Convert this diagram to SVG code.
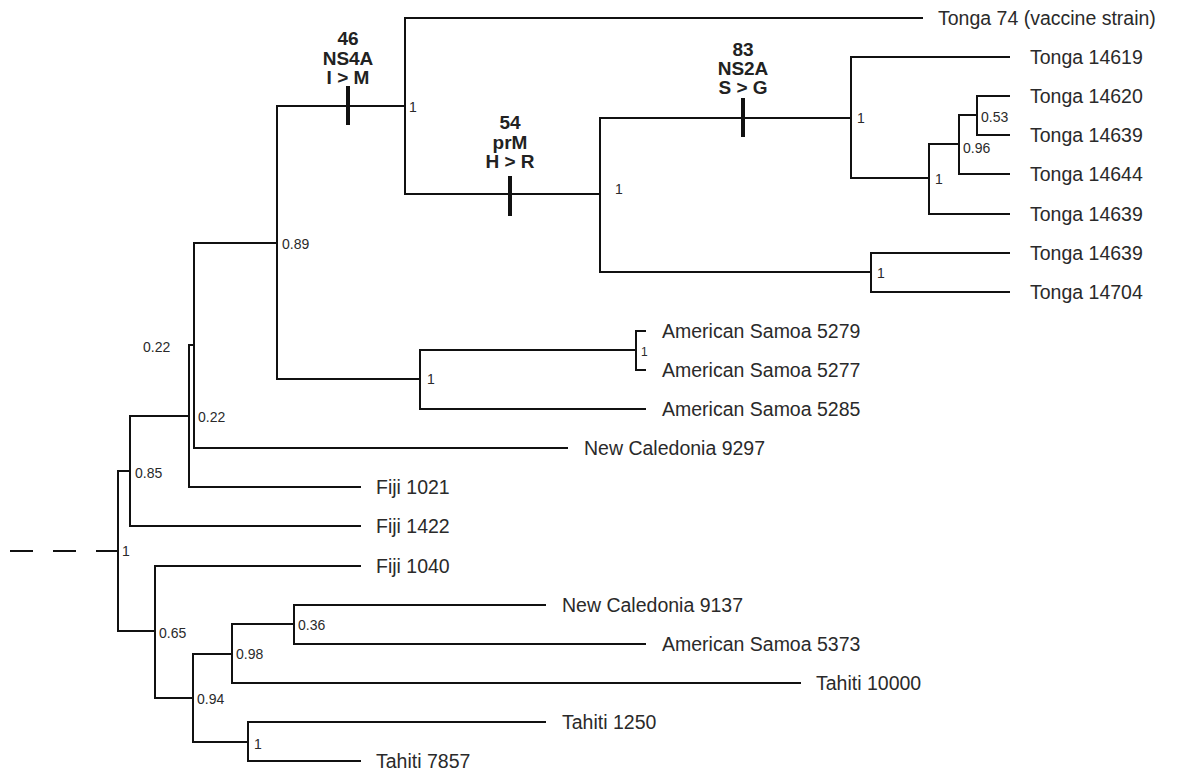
<svg xmlns="http://www.w3.org/2000/svg" width="1180" height="772" viewBox="0 0 1180 772">
<style>
.br{fill:none;stroke:#111;stroke-width:2;stroke-linecap:square}
.dash{fill:none;stroke:#111;stroke-width:2;stroke-dasharray:23 20}
.tick{stroke:#111;stroke-width:4}
.tip{font-family:"Liberation Sans",Arial,sans-serif;font-size:19.5px;fill:#2a2a2a}
.sup{font-family:"Liberation Sans",Arial,sans-serif;font-size:14px;fill:#2a2a2a}
.sup-s{font-family:"Liberation Sans",Arial,sans-serif;font-size:12px;fill:#2a2a2a}
.mut{font-family:"Liberation Sans",Arial,sans-serif;font-size:19px;font-weight:bold;fill:#222;text-anchor:middle}
</style>
<rect width="1180" height="772" fill="#fff"/>
<g id="connectors">
<path class="dash" d="M10 551H118"/>
<path class="br" d="M118 471V631"/>
<path class="br" d="M118 471H130M130 416V526M130 526H360"/>
<path class="br" d="M130 416H189M189 345V487M189 487H360"/>
<path class="br" d="M189 345H194M194 243V448M194 448H567"/>
<path class="br" d="M194 243H277M277 106V379"/>
<path class="br" d="M277 106H405M405 18V194M405 18H922"/>
<path class="br" d="M405 194H600M600 118V272"/>
<path class="br" d="M600 118H851M851 57V178M851 57H1009"/>
<path class="br" d="M851 178H929M929 144V214M929 214H1009"/>
<path class="br" d="M929 144H959M959 115V174M959 174H1009"/>
<path class="br" d="M959 115H977M977 96V135M977 96H1009M977 135H1009"/>
<path class="br" d="M600 272H871M871 253V292M871 253H1009M871 292H1009"/>
<path class="br" d="M277 379H420M420 350V409M420 409H645"/>
<path class="br" d="M420 350H636M636 331V370M636 331H645M636 370H645"/>
<path class="br" d="M118 631H155M155 566V698M155 566H360"/>
<path class="br" d="M155 698H193M193 654V742"/>
<path class="br" d="M193 654H232M232 624V683M232 683H800"/>
<path class="br" d="M232 624H294M294 605V644M294 605H545M294 644H645"/>
<path class="br" d="M193 742H248M248 722V761M248 722H545M248 761H360"/>
</g>
<g id="mut-46">
<line class="tick" x1="348" y1="86" x2="348" y2="125"/>
<text class="mut" x="348" y="45">46</text>
<text class="mut" x="348" y="65">NS4A</text>
<text class="mut" x="348" y="84">I &gt; M</text>
</g>
<g id="mut-54">
<line class="tick" x1="510" y1="176" x2="510" y2="216"/>
<text class="mut" x="510" y="129">54</text>
<text class="mut" x="510" y="149">prM</text>
<text class="mut" x="510" y="168">H &gt; R</text>
</g>
<g id="mut-83">
<line class="tick" x1="743" y1="98" x2="743" y2="137"/>
<text class="mut" x="743" y="56">83</text>
<text class="mut" x="743" y="75">NS2A</text>
<text class="mut" x="743" y="94">S &gt; G</text>
</g>
<g id="node-root"><text class="sup" x="122" y="556">1</text></g>
<g id="node-a"><text class="sup" x="135" y="478">0.85</text></g>
<g id="node-b"><text class="sup" x="143" y="352">0.22</text></g>
<g id="node-c"><text class="sup" x="198" y="422">0.22</text></g>
<g id="node-d"><text class="sup" x="282" y="249">0.89</text></g>
<g id="node-e"><text class="sup" x="409" y="112">1</text></g>
<g id="node-f"><text class="sup" x="615" y="194">1</text></g>
<g id="node-g"><text class="sup" x="857" y="123">1</text></g>
<g id="node-h"><text class="sup" x="935" y="184">1</text></g>
<g id="node-i"><text class="sup" x="963" y="153">0.96</text></g>
<g id="node-j"><text class="sup" x="981" y="122">0.53</text></g>
<g id="node-k"><text class="sup" x="877" y="278">1</text></g>
<g id="node-l"><text class="sup" x="427" y="384">1</text></g>
<g id="node-m"><text class="sup-s" x="641" y="356">1</text></g>
<g id="node-n"><text class="sup" x="159" y="638">0.65</text></g>
<g id="node-o"><text class="sup" x="197" y="704">0.94</text></g>
<g id="node-p"><text class="sup" x="236" y="659">0.98</text></g>
<g id="node-q"><text class="sup" x="298" y="630">0.36</text></g>
<g id="node-s"><text class="sup" x="254" y="749">1</text></g>
<g id="tip-tonga74"><text class="tip" x="938" y="25">Tonga 74 (vaccine strain)</text></g>
<g id="tip-tonga14619"><text class="tip" x="1030" y="64">Tonga 14619</text></g>
<g id="tip-tonga14620"><text class="tip" x="1030" y="103">Tonga 14620</text></g>
<g id="tip-tonga14639a"><text class="tip" x="1030" y="142">Tonga 14639</text></g>
<g id="tip-tonga14644"><text class="tip" x="1030" y="181">Tonga 14644</text></g>
<g id="tip-tonga14639b"><text class="tip" x="1030" y="221">Tonga 14639</text></g>
<g id="tip-tonga14639c"><text class="tip" x="1030" y="260">Tonga 14639</text></g>
<g id="tip-tonga14704"><text class="tip" x="1030" y="299">Tonga 14704</text></g>
<g id="tip-as5279"><text class="tip" x="662" y="338">American Samoa 5279</text></g>
<g id="tip-as5277"><text class="tip" x="662" y="377">American Samoa 5277</text></g>
<g id="tip-as5285"><text class="tip" x="662" y="416">American Samoa 5285</text></g>
<g id="tip-nc9297"><text class="tip" x="584" y="455">New Caledonia 9297</text></g>
<g id="tip-fiji1021"><text class="tip" x="376" y="494">Fiji 1021</text></g>
<g id="tip-fiji1422"><text class="tip" x="376" y="533">Fiji 1422</text></g>
<g id="tip-fiji1040"><text class="tip" x="376" y="573">Fiji 1040</text></g>
<g id="tip-nc9137"><text class="tip" x="562" y="612">New Caledonia 9137</text></g>
<g id="tip-as5373"><text class="tip" x="662" y="651">American Samoa 5373</text></g>
<g id="tip-tahiti10000"><text class="tip" x="816" y="690">Tahiti 10000</text></g>
<g id="tip-tahiti1250"><text class="tip" x="562" y="729">Tahiti 1250</text></g>
<g id="tip-tahiti7857"><text class="tip" x="376" y="768">Tahiti 7857</text></g>
</svg>
